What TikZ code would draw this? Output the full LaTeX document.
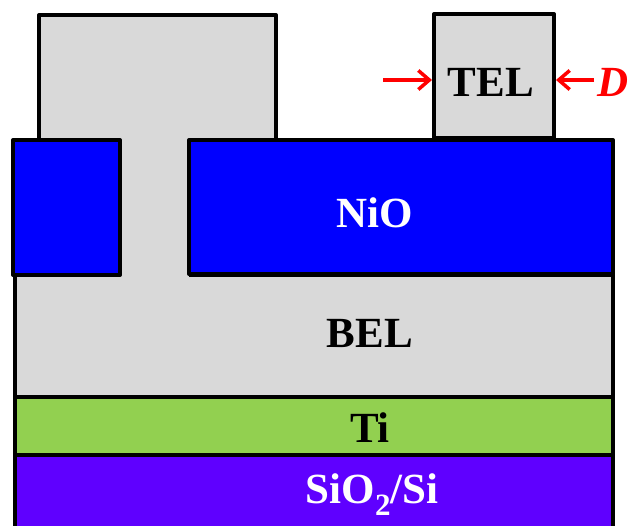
\documentclass[tikz,border=0pt]{standalone}
\usepackage{fontspec}
\setmainfont{Liberation Serif}
\usetikzlibrary{arrows.meta}
\definecolor{elec}{HTML}{D9D9D9}
\definecolor{nio}{HTML}{0000FF}
\definecolor{tilay}{HTML}{92D050}
\definecolor{subs}{HTML}{5F00FF}
\definecolor{dimc}{HTML}{FF0000}
\newcommand{\lowtwo}{\raisebox{-12pt}{\fontsize{31}{31}\selectfont 2}}
\tikzset{
  lay/.style={draw=black,line width=4pt,line join=round},
  txt/.style={inner sep=0pt,anchor=base,font=\fontsize{43}{43}\selectfont\bfseries},
  wtxt/.style={txt,text=white},
  ar/.style={-{Straight Barb[length=11pt,width=19pt]},line width=3.5pt,draw=dimc},
}

\begin{document}
\begin{tikzpicture}[x=1pt,y=-1pt]
  \clip (0,0) rectangle (631,526);
  % layer stack
  \draw[lay,fill=subs] (15,455) rectangle (613,540);
  \draw[lay,fill=tilay] (15,397) rectangle (613,455);
  \draw[lay,fill=elec] (15,275) rectangle (613,397);
  % via and bottom contact pad
  \fill[elec] (120,140) rectangle (189,279);
  \draw[lay,fill=elec] (39,140) -- (39,15) -- (276,15) -- (276,140);
  \draw[lay,fill=nio] (13,140) rectangle (120,275);
  \draw[lay,fill=nio] (189,140) rectangle (613,274);
  % top electrode
  \node[lay,fill=elec,minimum width=120,minimum height=124,anchor=south west] (tel) at (432,140) {};
  \node[txt] (tellbl) at (491,97) {TEL};
  \node[wtxt] (niolbl) at (375,228) {NiO};
  \node[txt] (bellbl) at (370,347) {BEL};
  \node[txt] (tilbl) at (370,442) {Ti};
  \node[wtxt] (sublbl) at (372,503) {SiO\lowtwo/Si};
  \node[txt,text=dimc,font=\fontsize{43}{43}\selectfont\bfseries\itshape] (dlbl) at (613,97) {D};
  \coordinate (la) at (383,80);
  \coordinate (ra) at (594,80);
  \draw[ar] (la) -- (tel.west |- la);
  \draw[ar] (ra) -- (tel.east |- ra);
\end{tikzpicture}
\end{document}
